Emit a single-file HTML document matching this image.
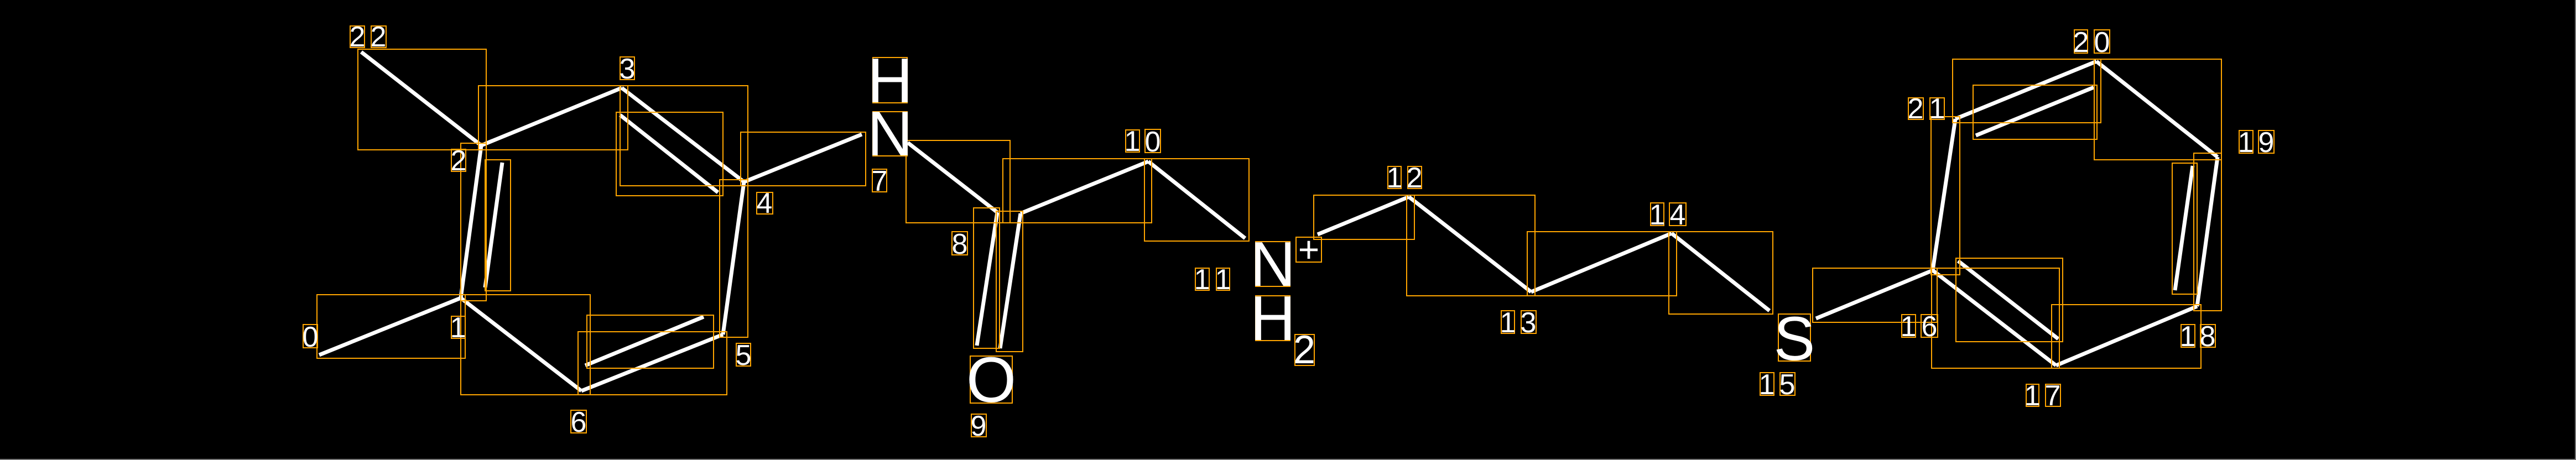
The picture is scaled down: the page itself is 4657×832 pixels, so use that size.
<!DOCTYPE html>
<html><head><meta charset="utf-8"><style>
html,body{margin:0;padding:0;background:#000;}
svg{display:block;}
text{font-family:"Liberation Sans",sans-serif;fill:#fff;}
</style></head><body>
<svg width="4657" height="832" viewBox="0 0 4657 832" xmlns="http://www.w3.org/2000/svg">
<rect x="0" y="0" width="4657" height="832" fill="#000"/>
<g stroke="#fff" stroke-width="7" stroke-linecap="butt" fill="none">
<line x1="653" y1="94" x2="870" y2="263"/>
<line x1="870" y1="263" x2="1124" y2="159"/>
<line x1="1124" y1="159" x2="1345" y2="329"/>
<line x1="1121" y1="208" x2="1298" y2="348"/>
<line x1="1345" y1="329" x2="1558" y2="243"/>
<line x1="1345" y1="329" x2="1307" y2="605"/>
<line x1="1307" y1="605" x2="1051" y2="707"/>
<line x1="1058" y1="661" x2="1272" y2="573"/>
<line x1="1051" y1="707" x2="833" y2="539"/>
<line x1="833" y1="539" x2="577" y2="642"/>
<line x1="833" y1="539" x2="870" y2="263"/>
<line x1="908" y1="294" x2="877" y2="520"/>
<line x1="1641" y1="258" x2="1803" y2="384"/>
<line x1="1803" y1="384" x2="1766" y2="625"/>
<line x1="1845" y1="386" x2="1808" y2="630"/>
<line x1="1845" y1="386" x2="2076" y2="292"/>
<line x1="2076" y1="292" x2="2251" y2="431"/>
<line x1="2382" y1="424" x2="2547" y2="356"/>
<line x1="2547" y1="356" x2="2768" y2="528"/>
<line x1="2768" y1="528" x2="3022" y2="422"/>
<line x1="3022" y1="422" x2="3199" y2="562"/>
<line x1="3283" y1="576" x2="3494" y2="489"/>
<line x1="3494" y1="489" x2="3535" y2="215"/>
<line x1="3535" y1="215" x2="3790" y2="111"/>
<line x1="3572" y1="245" x2="3785" y2="158"/>
<line x1="3790" y1="111" x2="4009" y2="284"/>
<line x1="4009" y1="284" x2="3972" y2="554"/>
<line x1="3964" y1="300" x2="3932" y2="525"/>
<line x1="3972" y1="554" x2="3717" y2="661"/>
<line x1="3494" y1="489" x2="3717" y2="661"/>
<line x1="3540" y1="472" x2="3721" y2="613"/>
</g>
<g stroke="#FFA500" stroke-width="2" fill="none">
<rect x="647" y="89" width="232" height="182"/>
<rect x="865" y="155" width="270" height="116"/>
<rect x="1121" y="155" width="231" height="181"/>
<rect x="1114" y="203" width="193" height="151"/>
<rect x="1339" y="239" width="226" height="97"/>
<rect x="833" y="259" width="46" height="285"/>
<rect x="877" y="289" width="46" height="237"/>
<rect x="573" y="533" width="268" height="115"/>
<rect x="833" y="533" width="234" height="181"/>
<rect x="1045" y="600" width="269" height="114"/>
<rect x="1061" y="570" width="229" height="96"/>
<rect x="1301" y="325" width="51" height="285"/>
<rect x="1638" y="254" width="188" height="149"/>
<rect x="1813" y="287" width="269" height="116"/>
<rect x="1760" y="376" width="47" height="254"/>
<rect x="1801" y="382" width="48" height="254"/>
<rect x="2069" y="287" width="189" height="149"/>
<rect x="2375" y="353" width="182" height="80"/>
<rect x="2543" y="353" width="232" height="182"/>
<rect x="2761" y="419" width="270" height="116"/>
<rect x="3017" y="419" width="188" height="149"/>
<rect x="3277" y="485" width="225" height="98"/>
<rect x="3491" y="211" width="52" height="286"/>
<rect x="3530" y="107" width="268" height="115"/>
<rect x="3567" y="154" width="224" height="98"/>
<rect x="3786" y="107" width="230" height="182"/>
<rect x="3966" y="277" width="50" height="285"/>
<rect x="3927" y="295" width="45" height="237"/>
<rect x="3709" y="551" width="270" height="115"/>
<rect x="3492" y="485" width="231" height="181"/>
<rect x="3536" y="467" width="193" height="151"/>
<!-- big atom label boxes -->
<rect x="1578" y="104" width="62" height="82"/>
<rect x="1578" y="202" width="62" height="80"/>
<rect x="1754" y="644" width="76" height="85"/>
<rect x="2270" y="437" width="62" height="81"/>
<rect x="2270" y="535" width="62" height="81"/>
<rect x="2341" y="605" width="35" height="56"/>
<rect x="2343" y="429" width="46" height="45"/>
<rect x="3215" y="568" width="58" height="85"/>
<!-- digit boxes -->
<rect x="633" y="47" width="26" height="39"/><rect x="671" y="47" width="27" height="39"/>
<rect x="1121" y="103" width="26" height="41"/>
<rect x="816" y="270" width="26" height="40"/>
<rect x="1368" y="348" width="29" height="39"/>
<rect x="548" y="587" width="26" height="42"/>
<rect x="816" y="572" width="25" height="40"/>
<rect x="1331" y="621" width="26" height="41"/>
<rect x="1032" y="742" width="28" height="41"/>
<rect x="1577" y="306" width="26" height="41"/>
<rect x="1721" y="419" width="28" height="42"/>
<rect x="1756" y="749" width="27" height="41"/>
<rect x="2035" y="235" width="25" height="40"/><rect x="2070" y="234" width="28" height="42"/>
<rect x="2161" y="485" width="25" height="40"/><rect x="2199" y="485" width="24" height="40"/>
<rect x="2509" y="301" width="24" height="40"/><rect x="2545" y="301" width="25" height="40"/>
<rect x="2714" y="562" width="24" height="41"/><rect x="2750" y="562" width="27" height="41"/>
<rect x="2984" y="367" width="24" height="41"/><rect x="3018" y="367" width="30" height="41"/>
<rect x="3182" y="674" width="25" height="41"/><rect x="3218" y="674" width="27" height="41"/>
<rect x="3438" y="569" width="25" height="41"/><rect x="3473" y="569" width="30" height="41"/>
<rect x="3450" y="177" width="27" height="39"/><rect x="3489" y="177" width="26" height="39"/>
<rect x="3750" y="54" width="24" height="42"/><rect x="3786" y="54" width="28" height="42"/>
<rect x="4048" y="236" width="25" height="41"/><rect x="4083" y="236" width="28" height="41"/>
<rect x="3943" y="587" width="25" height="41"/><rect x="3978" y="587" width="27" height="41"/>
<rect x="3663" y="695" width="23" height="40"/><rect x="3698" y="695" width="27" height="40"/>
</g>
<g font-size="114" text-anchor="middle">
<text x="1609" y="185">H</text>
<text x="1609" y="281">N</text>
<text x="1792" y="727" font-size="116">O</text>
<text x="2301" y="517">N</text>
<text x="2301" y="615">H</text>
<text x="3244" y="651" font-size="112">S</text>
<text x="2358" y="657" font-size="72">2</text>
<text x="2366" y="474" font-size="66">+</text>
</g>
<g font-size="52" text-anchor="middle">
<text x="646" y="84">2</text><text x="684" y="84">2</text>
<text x="1134" y="142">3</text>
<text x="829" y="308">2</text>
<text x="1382" y="385">4</text>
<text x="561" y="627">0</text>
<text x="828" y="610">1</text>
<text x="1344" y="660">5</text>
<text x="1046" y="781">6</text>
<text x="1590" y="345">7</text>
<text x="1735" y="459">8</text>
<text x="1769" y="788">9</text>
<text x="2047" y="273">1</text><text x="2084" y="274">0</text>
<text x="2173" y="523">1</text><text x="2211" y="523">1</text>
<text x="2521" y="339">1</text><text x="2557" y="339">2</text>
<text x="2726" y="601">1</text><text x="2763" y="601">3</text>
<text x="2996" y="406">1</text><text x="3033" y="406">4</text>
<text x="3194" y="713">1</text><text x="3231" y="713">5</text>
<text x="3450" y="608">1</text><text x="3488" y="608">6</text>
<text x="3463" y="214">2</text><text x="3502" y="214">1</text>
<text x="3762" y="94">2</text><text x="3800" y="94">0</text>
<text x="4060" y="275">1</text><text x="4097" y="275">9</text>
<text x="3955" y="626">1</text><text x="3991" y="626">8</text>
<text x="3674" y="733">1</text><text x="3711" y="733">7</text>
</g>
<rect x="0" y="830" width="4657" height="2" fill="#777"/>
<rect x="4655" y="0" width="2" height="832" fill="#777"/>
</svg>
</body></html>
